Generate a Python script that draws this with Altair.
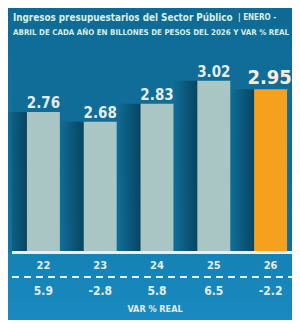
import altair as alt
import pandas as pd

years = ["22", "23", "24", "25", "26"]
ingresos = [2.76, 2.68, 2.83, 3.02, 2.95]
var_real = [5.9, -2.8, 5.8, 6.5, -2.2]
title_main = "Ingresos presupuestarios del Sector Público"
title_tail = "| ENERO -"
subtitle = "ABRIL DE CADA AÑO EN BILLONES DE PESOS DEL 2026 Y VAR % REAL"
var_caption = "VAR % REAL"

df = pd.DataFrame({"year": years, "value": ingresos, "var": var_real})
df["hl"] = df["year"] == "26"
df["label"] = df["value"].map(lambda v: f"{v:.2f}")
df["varlabel"] = df["var"].map(lambda v: f"{v:.1f}")

FONT = "DejaVu Sans Condensed, Roboto, sans-serif"
LIGHT = "#e4ecea"
TITLE_C = "#d9efe0"
BASE = 1.6
O = 8  # page margin offset
W, H = 300 - 2 * O, 328 - 2 * O

one = pd.DataFrame({"k": [0]})
base = alt.Chart(df)

xs = alt.Scale(range=[15 - O, 299 - O], paddingInner=0.42, paddingOuter=0.21)
ys = alt.Scale(domain=[BASE, 3.6], range=[252 - O, 10.8 - O], zero=False, nice=False)
X = alt.X("year:N", scale=xs, axis=None, sort=years)
Y = alt.Y("value:Q", scale=ys, axis=None)

bg = alt.Chart(one).mark_rect(
    color=alt.LinearGradient(
        gradient="linear", x1=0, x2=0, y1=0, y2=1,
        stops=[alt.GradientStop(color="#0e6993", offset=0),
               alt.GradientStop(color="#1279a8", offset=0.5),
               alt.GradientStop(color="#1a8dc4", offset=1)]
    )
).encode(x=alt.value(-O), x2=alt.value(300), y=alt.value(-O), y2=alt.value(340))

panel = alt.Chart(one).mark_rect(
    color=alt.LinearGradient(
        gradient="linear", x1=0, x2=0, y1=0, y2=1,
        stops=[alt.GradientStop(color="rgba(10,88,120,0)", offset=0),
               alt.GradientStop(color="rgba(10,88,120,0.35)", offset=0.5),
               alt.GradientStop(color="rgba(10,88,120,0.45)", offset=1)]
    )
).encode(x=alt.value(12 - O), x2=alt.value(300), y=alt.value(40 - O), y2=alt.value(252 - O))

shadow = base.mark_bar(
    width=24, xOffset=-28,
    color=alt.LinearGradient(
        gradient="linear", x1=0, x2=1, y1=0, y2=0,
        stops=[alt.GradientStop(color="rgba(4,50,72,0)", offset=0),
               alt.GradientStop(color="rgba(4,50,72,0.7)", offset=1)]
    )
).encode(x=X, y=Y, y2=alt.datum(BASE))

bars = base.mark_bar().encode(
    x=X, y=Y, y2=alt.datum(BASE),
    color=alt.condition("datum.hl", alt.value("#f5a11e"), alt.value("#a9c5c4"))
)

labels = base.transform_filter("!datum.hl").mark_text(
    font=FONT, fontSize=15, fontWeight="bold", color=LIGHT, baseline="alphabetic", dy=-4
).encode(x=X, y=Y, text="label:N")

hl_label = base.transform_filter("datum.hl").mark_text(
    font=FONT, fontSize=20, fontWeight="bold", color="#f7eed8", baseline="alphabetic", dy=-5, dx=-1
).encode(x=X, y=Y, text="label:N")

baseline_rule = alt.Chart(one).mark_rule(color="#f1eee3", strokeWidth=3).encode(
    x=alt.value(12 - O), x2=alt.value(300), y=alt.value(252.5 - O))

year_text = base.mark_text(font=FONT, fontSize=11, fontWeight="bold", color=LIGHT,
                           baseline="alphabetic").encode(x=X, y=alt.value(269 - O), text="year:N")

dash = alt.Chart(one).mark_rule(color="#e8eeee", strokeWidth=2, strokeDash=[7, 5]).encode(
    x=alt.value(12 - O), x2=alt.value(300), y=alt.value(277 - O))

var_text = base.mark_text(font=FONT, fontSize=12, fontWeight="bold", color=LIGHT,
                          baseline="alphabetic").encode(x=X, y=alt.value(295 - O), text="varlabel:N")

cap = alt.Chart(pd.DataFrame({"t": [var_caption]})).mark_text(
    font=FONT, fontSize=9, fontWeight="bold", color=LIGHT, baseline="alphabetic"
).encode(x=alt.value(155 - O), y=alt.value(312 - O), text="t:N")

t1 = alt.Chart(pd.DataFrame({"t": [title_main]})).mark_text(
    font=FONT, fontSize=9.8, fontWeight="bold", color=TITLE_C, align="left", baseline="alphabetic"
).encode(x=alt.value(13 - O), y=alt.value(21 - O), text="t:N")

t1b = alt.Chart(pd.DataFrame({"t": [title_tail]})).mark_text(
    font=FONT, fontSize=8, fontWeight="bold", color=TITLE_C, align="left", baseline="alphabetic"
).encode(x=alt.value(238 - O), y=alt.value(20 - O), text="t:N")

t2 = alt.Chart(pd.DataFrame({"t": [subtitle]})).mark_text(
    font=FONT, fontSize=7.9, fontWeight="bold", color=TITLE_C, align="left", baseline="alphabetic"
).encode(x=alt.value(13 - O), y=alt.value(35 - O), text="t:N")

chart = alt.layer(
    bg, panel, shadow, bars, labels, hl_label, baseline_rule, year_text, dash, var_text, cap, t1, t1b, t2
).properties(
    width=W, height=H, padding=0, autosize=alt.AutoSizeParams(type="none")
).configure_view(stroke=None, clip=False).configure(background="#1279a8")

chart.save("out.html", embed_options={"renderer": "svg", "actions": False})
